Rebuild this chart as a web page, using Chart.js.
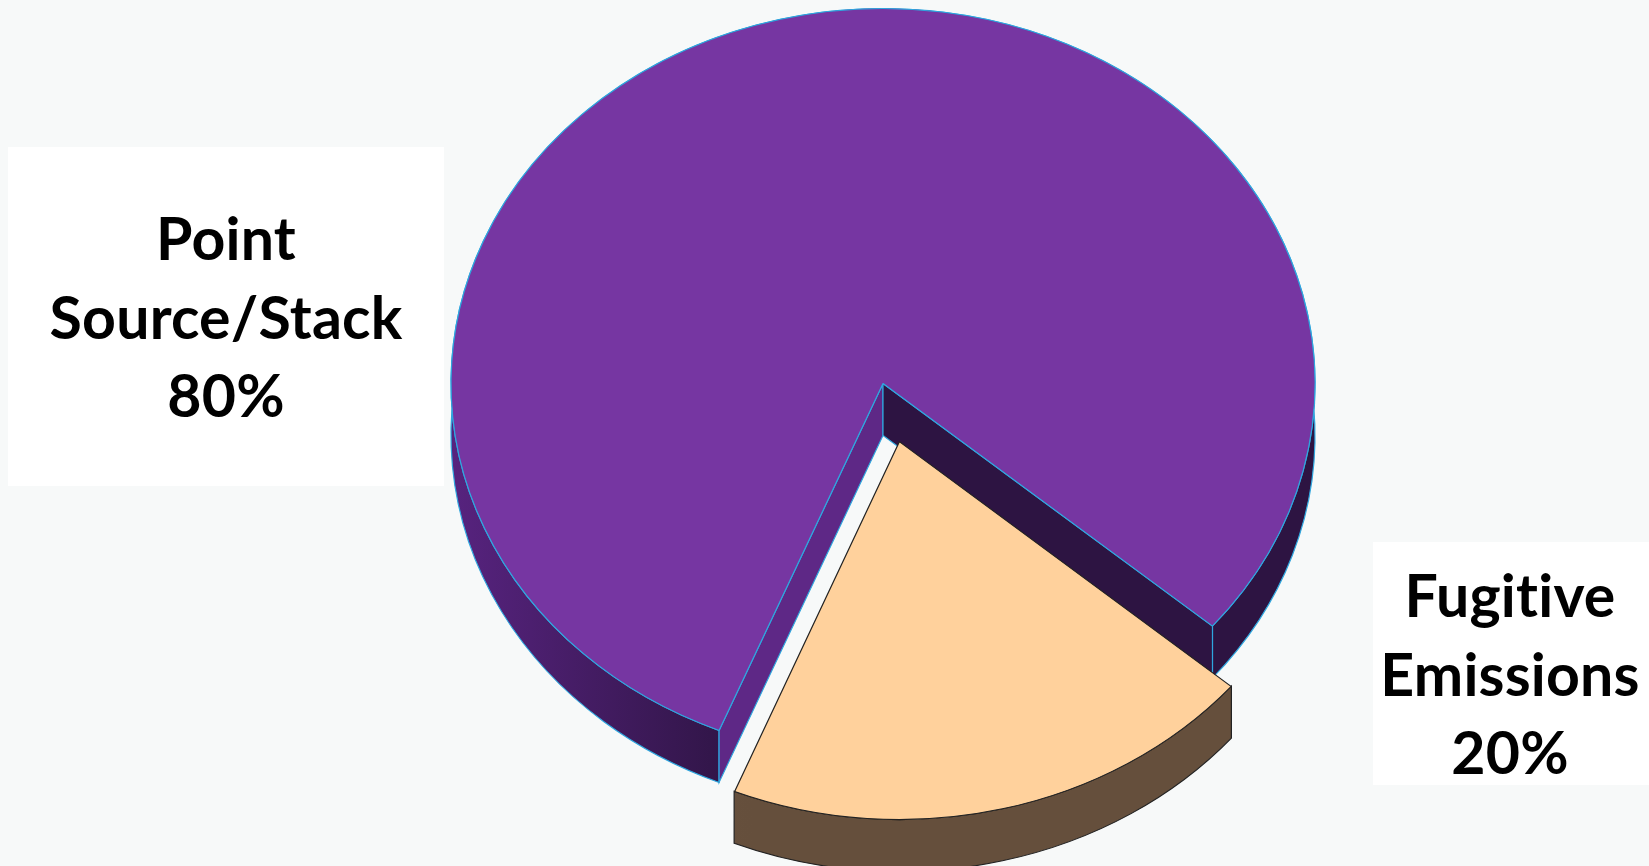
<!DOCTYPE html>
<html>
<head>
<meta charset="utf-8">
<script src="https://cdn.jsdelivr.net/npm/chart.js@4.4.1/dist/chart.umd.min.js"></script>
<style>
    html, body { margin: 0; padding: 0; background: #f7f9f9; }
    #wrap { width: 1649px; height: 866px; position: relative; }
</style>
</head>
<body>
<div id="wrap"><canvas id="emissionsChart"></canvas></div>
<script>
// Chart data
const categories = ['Point Source/Stack', 'Fugitive Emissions'];
const shares = [80, 20];

// Slice styles (top face, edge line, side walls)
const topColors = ['#7636a2', '#ffd19c'];
const edgeColors = ['#2fa6de', '#222222'];
const wallLight = ['#57237f', '#6f5844'];
const wallDark = ['#2d1442', '#654f3c'];
const startFaceColors = ['#5e2886', '#6f5844'];
const endFaceColors = ['#2d1442', '#654f3c'];
const explode = [0, 276]; // Chart.js divides arc offset by 4

const TILT = 0.868;   // vertical squash of the pie
const DEPTH = 52;     // thickness of the pie in px
const RADIUS = 432;

// Draw the side walls of one slice (context is already squashed)
function drawSides(ctx, arc, i) {
    const p = arc.getProps(['x', 'y', 'startAngle', 'endAngle', 'outerRadius', 'circumference']);
    const off = (arc.options.offset || 0) / 4;
    const mid = (p.startAngle + p.endAngle) / 2;
    const ax = p.x + Math.cos(mid) * off;
    const ay = p.y + Math.sin(mid) * off;
    const r = p.outerRadius + off * (1 - Math.sin(Math.min(Math.PI, p.circumference)));
    const d = DEPTH / TILT;

    const grad = ctx.createLinearGradient(p.x - r, 0, p.x + r, 0);
    grad.addColorStop(0, wallLight[i]);
    grad.addColorStop(0.35, wallDark[i]);
    grad.addColorStop(1, wallDark[i]);

    ctx.lineWidth = 1.2;
    ctx.strokeStyle = edgeColors[i];

    // outer rim
    ctx.beginPath();
    ctx.arc(ax, ay, r, p.startAngle, p.endAngle);
    ctx.arc(ax, ay + d, r, p.endAngle, p.startAngle, true);
    ctx.closePath();
    ctx.fillStyle = grad;
    ctx.fill();
    ctx.stroke();

    // cut faces, only the ones turned toward the viewer
    [[p.startAngle, -1, startFaceColors[i]], [p.endAngle, 1, endFaceColors[i]]].forEach(([a, side, col]) => {
        if (Math.sin(a + side * Math.PI / 2) <= 0) return;
        const ex = ax + Math.cos(a) * r;
        const ey = ay + Math.sin(a) * r;
        ctx.beginPath();
        ctx.moveTo(ax, ay);
        ctx.lineTo(ex, ey);
        ctx.lineTo(ex, ey + d);
        ctx.lineTo(ax, ay + d);
        ctx.closePath();
        ctx.fillStyle = col;
        ctx.fill();
        ctx.stroke();
    });
}

const pie3d = {
    id: 'pie3d',
    beforeDatasetsDraw(chart) {
        const ctx = chart.ctx;
        const arcs = chart.getDatasetMeta(0).data;
        const cx = arcs[0].x, cy = arcs[0].y;
        ctx.save();
        ctx.translate(cx, cy);
        ctx.scale(1, TILT);
        ctx.translate(-cx, -cy);
        arcs.forEach((arc, i) => drawSides(ctx, arc, i));
    },
    afterDatasetsDraw(chart) {
        chart.ctx.restore();
    }
};

// Label boxes
const labelBoxes = [
    { x: 8, y: 147, w: 436, h: 339, cx: 226, base: 260 },
    { x: 1373, y: 542, w: 276, h: 243, cx: 1510, base: 617 }
];

const sliceLabels = {
    id: 'sliceLabels',
    afterDraw(chart) {
        const ctx = chart.ctx;
        const total = shares.reduce((a, b) => a + b, 0);
        ctx.save();
        categories.forEach((name, i) => {
            const box = labelBoxes[i];
            ctx.fillStyle = '#ffffff';
            ctx.fillRect(box.x, box.y, box.w, box.h);
            const cut = name.indexOf(' ');
            const lines = [name.slice(0, cut), name.slice(cut + 1), Math.round(shares[i] / total * 100) + '%'];
            ctx.fillStyle = '#000000';
            ctx.font = 'bold 59px Lato';
            ctx.letterSpacing = '0.2px'; // keeps "ti" from turning into a ligature
            ctx.textAlign = 'center';
            ctx.textBaseline = 'alphabetic';
            lines.forEach((line, j) => ctx.fillText(line, box.cx, box.base + j * 78.5));
        });
        ctx.restore();
    }
};

new Chart(document.getElementById('emissionsChart'), {
    type: 'pie',
    data: {
        labels: categories,
        datasets: [{
            data: shares,
            backgroundColor: topColors,
            borderColor: edgeColors,
            borderWidth: 1.2,
            offset: explode,
            clip: false
        }]
    },
    options: {
        responsive: true,
        maintainAspectRatio: false,
        animation: false,
        events: [],
        rotation: 202.3,
        radius: RADIUS,
        layout: {
            padding: { left: 117, right: 0, top: 0, bottom: 99 }
        },
        plugins: {
            legend: { display: false },
            tooltip: { enabled: false }
        }
    },
    plugins: [pie3d, sliceLabels]
});
</script>
</body>
</html>
